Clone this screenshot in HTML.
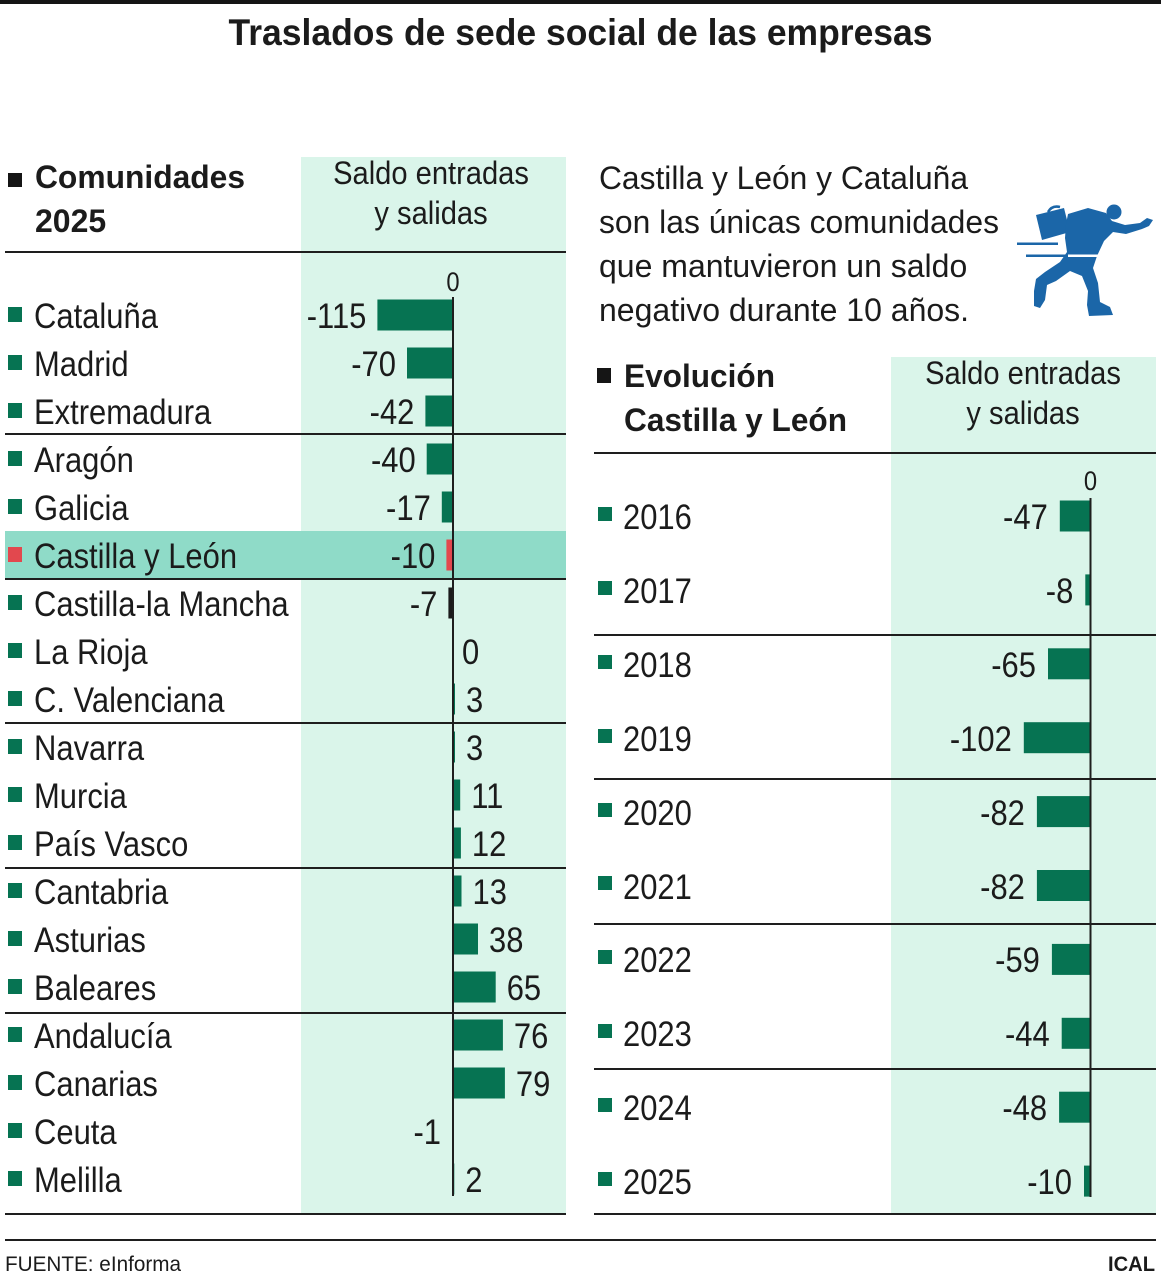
<!DOCTYPE html>
<html>
<head>
<meta charset="utf-8">
<style>
html,body{margin:0;padding:0;background:#fff;}
svg{display:block;}
text{font-family:"Liberation Sans",Arial,sans-serif;fill:#1b1b1b;}
.lb{font-size:35px;}
.b{font-weight:bold;}
</style>
</head>
<body>
<svg width="1161" height="1280" viewBox="0 0 1161 1280" xmlns="http://www.w3.org/2000/svg">
<rect x="0" y="0" width="1161" height="1280" fill="#fff"/>
<!-- top bar -->
<rect x="0" y="0" width="1161" height="4" fill="#151515"/>
<!-- title -->
<text x="580.5" y="45" text-anchor="middle" class="b" font-size="37" textLength="704" lengthAdjust="spacingAndGlyphs">Traslados de sede social de las empresas</text>

<!-- LEFT PANEL -->
<rect x="301" y="157" width="265" height="1057" fill="#daf5ea"/>
<rect x="5" y="531" width="561" height="48" fill="#8fdbc8"/>

<rect x="8" y="173" width="14" height="14" fill="#151515"/>
<text x="35" y="188" class="b" font-size="32" textLength="210" lengthAdjust="spacingAndGlyphs">Comunidades</text>
<text x="35" y="232" class="b" font-size="32">2025</text>
<text transform="translate(431,184) scale(0.91,1)" text-anchor="middle" font-size="32">Saldo entradas</text>
<text transform="translate(431,224) scale(0.91,1)" text-anchor="middle" font-size="32">y salidas</text>

<g stroke="#1e1e1e" stroke-width="2">
<line x1="5" y1="252" x2="566" y2="252"/>
<line x1="5" y1="434" x2="566" y2="434"/>
<line x1="5" y1="579" x2="566" y2="579"/>
<line x1="5" y1="723" x2="566" y2="723"/>
<line x1="5" y1="868" x2="566" y2="868"/>
<line x1="5" y1="1013" x2="566" y2="1013"/>
<line x1="5" y1="1214" x2="566" y2="1214"/>
</g>

<text transform="translate(453,291) scale(0.88,1)" text-anchor="middle" font-size="27">0</text>

<!-- left bullets -->
<g fill="#067352">
<rect x="8" y="307" width="14" height="15"/>
<rect x="8" y="355" width="14" height="15"/>
<rect x="8" y="403" width="14" height="15"/>
<rect x="8" y="451" width="14" height="15"/>
<rect x="8" y="499" width="14" height="15"/>
<rect x="8" y="595" width="14" height="15"/>
<rect x="8" y="643" width="14" height="15"/>
<rect x="8" y="691" width="14" height="15"/>
<rect x="8" y="739" width="14" height="15"/>
<rect x="8" y="787" width="14" height="15"/>
<rect x="8" y="835" width="14" height="15"/>
<rect x="8" y="883" width="14" height="15"/>
<rect x="8" y="931" width="14" height="15"/>
<rect x="8" y="979" width="14" height="15"/>
<rect x="8" y="1027" width="14" height="15"/>
<rect x="8" y="1075" width="14" height="15"/>
<rect x="8" y="1123" width="14" height="15"/>
<rect x="8" y="1171" width="14" height="15"/>
</g>
<rect x="8" y="547" width="14" height="15" fill="#e2484e"/>

<!-- left labels -->
<g class="lb">
<text transform="translate(34,328) scale(0.885,1)">Cataluña</text>
<text transform="translate(34,376) scale(0.885,1)">Madrid</text>
<text transform="translate(34,424) scale(0.885,1)">Extremadura</text>
<text transform="translate(34,472) scale(0.885,1)">Aragón</text>
<text transform="translate(34,520) scale(0.885,1)">Galicia</text>
<text transform="translate(34,568) scale(0.885,1)">Castilla y León</text>
<text transform="translate(34,616) scale(0.885,1)">Castilla-la Mancha</text>
<text transform="translate(34,664) scale(0.885,1)">La Rioja</text>
<text transform="translate(34,712) scale(0.885,1)">C. Valenciana</text>
<text transform="translate(34,760) scale(0.885,1)">Navarra</text>
<text transform="translate(34,808) scale(0.885,1)">Murcia</text>
<text transform="translate(34,856) scale(0.885,1)">País Vasco</text>
<text transform="translate(34,904) scale(0.885,1)">Cantabria</text>
<text transform="translate(34,952) scale(0.885,1)">Asturias</text>
<text transform="translate(34,1000) scale(0.885,1)">Baleares</text>
<text transform="translate(34,1048) scale(0.885,1)">Andalucía</text>
<text transform="translate(34,1096) scale(0.885,1)">Canarias</text>
<text transform="translate(34,1144) scale(0.885,1)">Ceuta</text>
<text transform="translate(34,1192) scale(0.885,1)">Melilla</text>
</g>

<!-- left bars -->
<g fill="#067352">
<rect x="377.4" y="299.5" width="75.6" height="31"/>
<rect x="407" y="347.5" width="46" height="31"/>
<rect x="425.4" y="395.5" width="27.6" height="31"/>
<rect x="426.7" y="443.5" width="26.3" height="31"/>
<rect x="441.8" y="491.5" width="11.2" height="31"/>
<rect x="453" y="683.5" width="2" height="31"/>
<rect x="453" y="731.5" width="2" height="31"/>
<rect x="453" y="779.5" width="7.2" height="31"/>
<rect x="453" y="827.5" width="7.9" height="31"/>
<rect x="453" y="875.5" width="8.5" height="31"/>
<rect x="453" y="923.5" width="25" height="31"/>
<rect x="453" y="971.5" width="42.7" height="31"/>
<rect x="453" y="1019.5" width="49.9" height="31"/>
<rect x="453" y="1067.5" width="51.9" height="31"/>
<rect x="453" y="1163.5" width="1.3" height="31"/>
</g>
<rect x="446.4" y="539.5" width="6.6" height="31" fill="#e2484e"/>
<rect x="448.4" y="587.5" width="4.6" height="31" fill="#1b1b1b"/>

<line x1="453" y1="297" x2="453" y2="1196" stroke="#1e1e1e" stroke-width="2"/>

<!-- left values -->
<g class="lb">
<text transform="translate(366.4,328) scale(0.885,1)" text-anchor="end">-115</text>
<text transform="translate(396,376) scale(0.885,1)" text-anchor="end">-70</text>
<text transform="translate(414.4,424) scale(0.885,1)" text-anchor="end">-42</text>
<text transform="translate(415.7,472) scale(0.885,1)" text-anchor="end">-40</text>
<text transform="translate(430.8,520) scale(0.885,1)" text-anchor="end">-17</text>
<text transform="translate(435.4,568) scale(0.885,1)" text-anchor="end">-10</text>
<text transform="translate(437.4,616) scale(0.885,1)" text-anchor="end">-7</text>
<text transform="translate(462,664) scale(0.885,1)">0</text>
<text transform="translate(466,712) scale(0.885,1)">3</text>
<text transform="translate(466,760) scale(0.885,1)">3</text>
<text transform="translate(471.2,808) scale(0.885,1)">11</text>
<text transform="translate(471.9,856) scale(0.885,1)">12</text>
<text transform="translate(472.5,904) scale(0.885,1)">13</text>
<text transform="translate(489,952) scale(0.885,1)">38</text>
<text transform="translate(506.7,1000) scale(0.885,1)">65</text>
<text transform="translate(513.9,1048) scale(0.885,1)">76</text>
<text transform="translate(515.9,1096) scale(0.885,1)">79</text>
<text transform="translate(441,1144) scale(0.885,1)" text-anchor="end">-1</text>
<text transform="translate(465.3,1192) scale(0.885,1)">2</text>
</g>

<!-- RIGHT PARAGRAPH -->
<g font-size="32">
<text x="599" y="189" textLength="369" lengthAdjust="spacingAndGlyphs">Castilla y León y Cataluña</text>
<text x="599" y="233" textLength="400" lengthAdjust="spacingAndGlyphs">son las únicas comunidades</text>
<text x="599" y="277">que mantuvieron un saldo</text>
<text x="599" y="321">negativo durante 10 años.</text>
</g>

<!-- runner icon -->
<g fill="#1b66a8">
<circle cx="1114" cy="212" r="7.5"/>
<polygon points="1036,215 1064,208 1070,232 1042,240"/>
<path d="M1048,212 q4,-7 12,-5" fill="none" stroke="#1b66a8" stroke-width="2.5"/>
<polygon points="1068,214 1088,208 1106,213 1112,221 1125,225 1140,223 1147,218 1153,220 1149,226 1142,229 1126,234 1113,232 1104,241 1097,256 1093,268 1098,283 1100,302 1110,307 1113,315 1089,316 1087,305 1088,291 1082,276 1070,271 1056,281 1047,285 1045,300 1040,308 1034,306 1034,291 1036,279 1045,272 1060,262 1067,252 1065,238 1066,224"/>
<rect x="1017" y="242.5" width="41" height="2.5"/>
<rect x="1026" y="254.5" width="42" height="2.5"/>
</g>
<rect x="1068" y="254.5" width="32" height="2.5" fill="#fff"/>

<!-- RIGHT PANEL -->
<rect x="891" y="357" width="265" height="857" fill="#daf5ea"/>
<rect x="597" y="368" width="14" height="15" fill="#151515"/>
<text x="624" y="387" class="b" font-size="32" textLength="151" lengthAdjust="spacingAndGlyphs">Evolución</text>
<text x="624" y="431" class="b" font-size="32" textLength="223" lengthAdjust="spacingAndGlyphs">Castilla y León</text>
<text transform="translate(1023,384) scale(0.91,1)" text-anchor="middle" font-size="32">Saldo entradas</text>
<text transform="translate(1023,424) scale(0.91,1)" text-anchor="middle" font-size="32">y salidas</text>

<g stroke="#1e1e1e" stroke-width="2">
<line x1="594" y1="453" x2="1156" y2="453"/>
<line x1="594" y1="635" x2="1156" y2="635"/>
<line x1="594" y1="779" x2="1156" y2="779"/>
<line x1="594" y1="924" x2="1156" y2="924"/>
<line x1="594" y1="1069" x2="1156" y2="1069"/>
<line x1="594" y1="1214" x2="1156" y2="1214"/>
</g>

<text transform="translate(1090.5,490) scale(0.88,1)" text-anchor="middle" font-size="27">0</text>

<g fill="#067352">
<rect x="598" y="507" width="14" height="14"/>
<rect x="598" y="581" width="14" height="14"/>
<rect x="598" y="655" width="14" height="14"/>
<rect x="598" y="729" width="14" height="14"/>
<rect x="598" y="803" width="14" height="14"/>
<rect x="598" y="876" width="14" height="14"/>
<rect x="598" y="950" width="14" height="14"/>
<rect x="598" y="1024" width="14" height="14"/>
<rect x="598" y="1098" width="14" height="14"/>
<rect x="598" y="1172" width="14" height="14"/>
</g>

<g class="lb">
<text transform="translate(623,529) scale(0.885,1)">2016</text>
<text transform="translate(623,603) scale(0.885,1)">2017</text>
<text transform="translate(623,677) scale(0.885,1)">2018</text>
<text transform="translate(623,751) scale(0.885,1)">2019</text>
<text transform="translate(623,825) scale(0.885,1)">2020</text>
<text transform="translate(623,899) scale(0.885,1)">2021</text>
<text transform="translate(623,972) scale(0.885,1)">2022</text>
<text transform="translate(623,1046) scale(0.885,1)">2023</text>
<text transform="translate(623,1120) scale(0.885,1)">2024</text>
<text transform="translate(623,1194) scale(0.885,1)">2025</text>
</g>

<g fill="#067352">
<rect x="1059.8" y="500.5" width="30.7" height="31"/>
<rect x="1085.3" y="574.4" width="5.2" height="31"/>
<rect x="1048" y="648.3" width="42.5" height="31"/>
<rect x="1023.8" y="722.2" width="66.7" height="31"/>
<rect x="1036.9" y="796.1" width="53.6" height="31"/>
<rect x="1036.9" y="870" width="53.6" height="31"/>
<rect x="1051.9" y="943.9" width="38.6" height="31"/>
<rect x="1061.7" y="1017.8" width="28.8" height="31"/>
<rect x="1059.1" y="1091.7" width="31.4" height="31"/>
<rect x="1084" y="1165.6" width="6.5" height="31"/>
</g>
<line x1="1090.5" y1="498" x2="1090.5" y2="1197" stroke="#1e1e1e" stroke-width="2"/>

<g class="lb">
<text transform="translate(1047.8,529) scale(0.885,1)" text-anchor="end">-47</text>
<text transform="translate(1073.3,603) scale(0.885,1)" text-anchor="end">-8</text>
<text transform="translate(1036,677) scale(0.885,1)" text-anchor="end">-65</text>
<text transform="translate(1011.8,751) scale(0.885,1)" text-anchor="end">-102</text>
<text transform="translate(1024.9,825) scale(0.885,1)" text-anchor="end">-82</text>
<text transform="translate(1024.9,899) scale(0.885,1)" text-anchor="end">-82</text>
<text transform="translate(1039.9,972) scale(0.885,1)" text-anchor="end">-59</text>
<text transform="translate(1049.7,1046) scale(0.885,1)" text-anchor="end">-44</text>
<text transform="translate(1047.1,1120) scale(0.885,1)" text-anchor="end">-48</text>
<text transform="translate(1072,1194) scale(0.885,1)" text-anchor="end">-10</text>
</g>

<!-- footer -->
<line x1="5" y1="1240" x2="1156" y2="1240" stroke="#1e1e1e" stroke-width="2"/>
<text x="5" y="1271" font-size="21" textLength="176" lengthAdjust="spacingAndGlyphs">FUENTE: eInforma</text>
<text x="1155" y="1271" text-anchor="end" class="b" font-size="21" textLength="47" lengthAdjust="spacingAndGlyphs">ICAL</text>
</svg>
</body>
</html>
